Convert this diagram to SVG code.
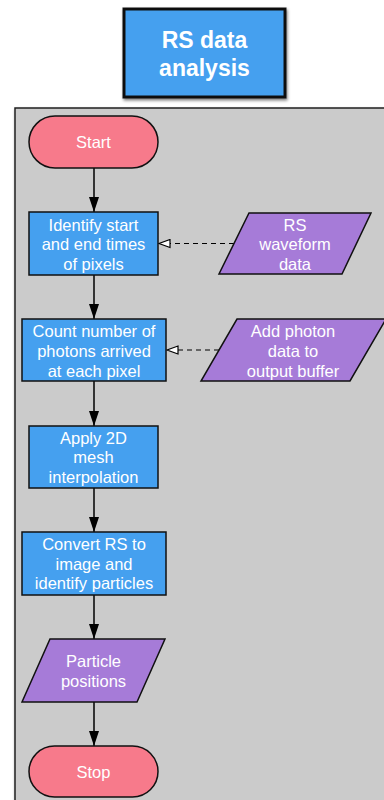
<svg xmlns="http://www.w3.org/2000/svg" width="384" height="800" viewBox="0 0 384 800">
<style>
.t{font-family:"Liberation Sans",Arial,sans-serif;font-size:16.5px;fill:#fff;text-anchor:middle;dominant-baseline:central}
.proc{fill:#45a0ef;stroke:#111;stroke-width:1.5}
.io{fill:#a67bd8;stroke:#111;stroke-width:1.5}
.term{fill:#f77a8b;stroke:#111;stroke-width:1.5}
.flow{stroke:#000;stroke-width:1.5;fill:none}
.dash{stroke:#000;stroke-width:1.2;fill:none;stroke-dasharray:5,4}
</style>
<defs>
<marker id="ah" viewBox="0 0 15 10" refX="15" refY="5" markerWidth="15" markerHeight="10" markerUnits="userSpaceOnUse" orient="auto"><path d="M0,0 L15,5 L0,10 Z" fill="#000"/></marker>
<marker id="oh" viewBox="0 0 13 10" refX="12" refY="5" markerWidth="13" markerHeight="10" markerUnits="userSpaceOnUse" orient="auto"><path d="M1,1 L12,5 L1,9 Z" fill="#fff" stroke="#000" stroke-width="1.2"/></marker>
<filter id="sh" x="-10%" y="-10%" width="130%" height="130%"><feDropShadow dx="1" dy="2" stdDeviation="1.5" flood-color="#000" flood-opacity="0.5"/></filter>
</defs>
<rect width="384" height="800" fill="#fff"/>
<g id="container"><rect x="15" y="108" width="380" height="700" fill="#cbcbcb" stroke="#222" stroke-width="1.5" filter="url(#sh)"/></g>
<g id="title"><rect x="124" y="9" width="161" height="88" fill="#45a0ef" stroke="#111" stroke-width="3" filter="url(#sh)"/>
<text class="t" x="204.5" y="40" style="font-size:23px;font-weight:bold">RS data</text>
<text class="t" x="204.5" y="68" style="font-size:23px;font-weight:bold">analysis</text></g>
<g id="connectors">
<line class="flow" x1="94" y1="168" x2="94" y2="212" marker-end="url(#ah)"/>
<line class="flow" x1="94" y1="275" x2="94" y2="319" marker-end="url(#ah)"/>
<line class="flow" x1="94" y1="381" x2="94" y2="426" marker-end="url(#ah)"/>
<line class="flow" x1="94" y1="488" x2="94" y2="532" marker-end="url(#ah)"/>
<line class="flow" x1="94" y1="595" x2="94" y2="639" marker-end="url(#ah)"/>
<line class="flow" x1="94" y1="702" x2="94" y2="746" marker-end="url(#ah)"/>
<line class="dash" x1="234" y1="243.5" x2="159" y2="243.5" marker-end="url(#oh)"/>
<line class="dash" x1="219" y1="350" x2="167" y2="350" marker-end="url(#oh)"/>
</g>
<g id="start"><rect class="term" x="29" y="116" width="129" height="52" rx="26"/><text class="t" x="93.5" y="142">Start</text></g>
<g id="identify"><rect class="proc" x="29" y="212" width="129" height="63"/>
<text class="t" x="93.5" y="225">Identify start</text><text class="t" x="93.5" y="244">and end times</text><text class="t" x="93.5" y="264">of pixels</text></g>
<g id="rswave"><polygon class="io" points="249,213 371,213 342,274 219,274"/>
<text class="t" x="295" y="225">RS</text><text class="t" x="295" y="244">waveform</text><text class="t" x="295" y="264">data</text></g>
<g id="count"><rect class="proc" x="22" y="319" width="144" height="62"/>
<text class="t" x="94" y="331">Count number of</text><text class="t" x="94" y="351">photons arrived</text><text class="t" x="94" y="371">at each pixel</text></g>
<g id="addphoton"><polygon class="io" points="237,319 386,319 350,381 201,381"/>
<text class="t" x="293" y="331">Add photon</text><text class="t" x="293" y="351">data to</text><text class="t" x="293" y="371">output buffer</text></g>
<g id="mesh"><rect class="proc" x="29" y="426" width="129" height="62"/>
<text class="t" x="93.5" y="438">Apply 2D</text><text class="t" x="93.5" y="457">mesh</text><text class="t" x="93.5" y="477">interpolation</text></g>
<g id="convert"><rect class="proc" x="22" y="532" width="144" height="63"/>
<text class="t" x="94" y="544">Convert RS to</text><text class="t" x="94" y="564">image and</text><text class="t" x="94" y="583">identify particles</text></g>
<g id="positions"><polygon class="io" points="50,639 165,639 137,702 22,702"/>
<text class="t" x="93.5" y="661">Particle</text><text class="t" x="93.5" y="681">positions</text></g>
<g id="stop"><rect class="term" x="29" y="746" width="129" height="51" rx="25.5"/><text class="t" x="93.5" y="772">Stop</text></g>
</svg>
